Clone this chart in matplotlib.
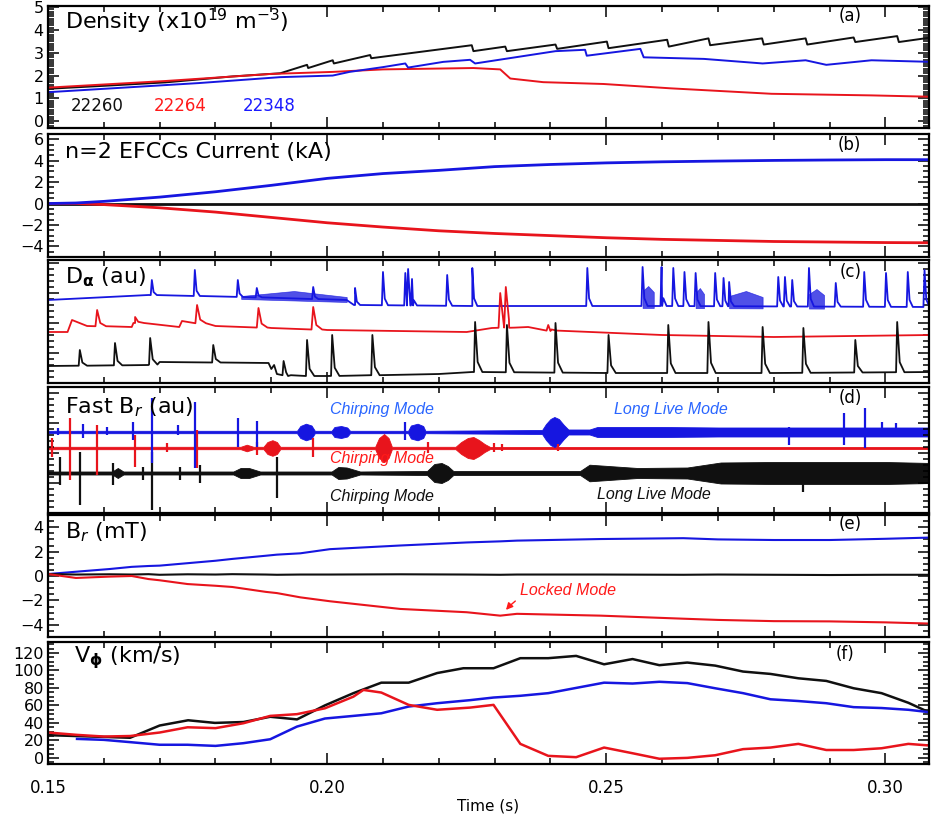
import numpy as np
import matplotlib.pyplot as plt
from matplotlib.ticker import MultipleLocator

BLACK = '#101010'
RED = '#e8141c'
BLUE = '#1616e0'

# (a) line averaged density, x10^19 m^-3
dens_k_t = [0.150, 0.160, 0.171, 0.183, 0.1916, 0.1964, 0.1966, 0.2010, 0.2012, 0.2077, 0.2079,
            0.2259, 0.2262, 0.2319, 0.2322, 0.2409, 0.2412, 0.2501, 0.2504, 0.2609, 0.2612,
            0.2683, 0.2686, 0.2779, 0.2782, 0.2857, 0.2860, 0.2943, 0.2946, 0.3021, 0.3024, 0.3082]
dens_k_v = [1.42, 1.55, 1.70, 1.96, 2.10, 2.47, 2.33, 2.67, 2.53, 2.90, 2.76,
            3.33, 3.07, 3.27, 3.07, 3.36, 3.17, 3.49, 3.20, 3.57, 3.27,
            3.63, 3.33, 3.63, 3.36, 3.63, 3.36, 3.67, 3.47, 3.73, 3.47, 3.67]
dens_r_t = [0.150, 0.171, 0.1899, 0.201, 0.210, 0.2262, 0.231, 0.2328, 0.2387, 0.2495, 0.2615,
            0.2796, 0.2975, 0.3082]
dens_r_v = [1.47, 1.76, 2.07, 2.16, 2.27, 2.33, 2.27, 1.87, 1.71, 1.63, 1.44, 1.20, 1.13, 1.07]
dens_b_t = [0.150, 0.177, 0.1916, 0.201, 0.204, 0.210, 0.214, 0.2145, 0.2208, 0.2256, 0.2265,
            0.2409, 0.2462, 0.2465, 0.2561, 0.2567, 0.2675, 0.278, 0.2857, 0.2894, 0.2975, 0.3082]
dens_b_v = [1.27, 1.67, 1.93, 2.00, 2.16, 2.37, 2.53, 2.35, 2.60, 2.69, 2.53,
            3.07, 3.13, 2.87, 3.17, 2.80, 2.73, 2.53, 2.67, 2.47, 2.67, 2.60]
shots = ['22260', '22264', '22348']

# (b) n=2 EFCC current, kA
efcc_t = [0.150, 0.155, 0.160, 0.170, 0.180, 0.190, 0.200, 0.210, 0.220, 0.230, 0.240, 0.250,
          0.260, 0.270, 0.280, 0.290, 0.300, 0.308]
efcc_b = [0.0, 0.05, 0.2, 0.6, 1.1, 1.7, 2.35, 2.8, 3.1, 3.45, 3.65, 3.8,
          3.9, 3.97, 4.03, 4.07, 4.1, 4.1]
efcc_r = [0.0, 0.0, -0.1, -0.4, -0.8, -1.3, -1.8, -2.2, -2.55, -2.8, -3.0, -3.2,
          -3.35, -3.45, -3.55, -3.6, -3.65, -3.67]
efcc_k = [0.0] * len(efcc_t)

# (c) D-alpha (au): baselines and ELM spikes (time, peak)
da_b_base_t = [0.150, 0.168, 0.185, 0.2035, 0.2050, 0.226, 0.260, 0.308]
da_b_base_v = [83, 88, 86, 83, 78, 77, 77, 76]
da_b_spk = [(0.1686, 103), (0.1763, 113), (0.1840, 103), (0.1874, 95), (0.1975, 96),
            (0.2050, 95), (0.2100, 111), (0.2140, 110), (0.2145, 114), (0.2152, 104),
            (0.2215, 108), (0.2260, 115), (0.2466, 115), (0.2565, 116), (0.2599, 116),
            (0.2620, 115), (0.2640, 111), (0.2660, 110), (0.2695, 110), (0.2710, 105),
            (0.2720, 101), (0.2808, 106), (0.2820, 106), (0.2833, 103), (0.2863, 115),
            (0.2911, 100), (0.2962, 111), (0.3001, 110), (0.3040, 111), (0.3070, 113)]
da_b_burst = [(0.1846, 0.2035, 92), (0.2565, 0.2585, 97), (0.2660, 0.2675, 95),
              (0.2720, 0.2780, 92), (0.2863, 0.2890, 94)]
da_r_base_t = [0.150, 0.1535, 0.1543, 0.157, 0.165, 0.1656, 0.1735, 0.1740, 0.180, 0.190,
               0.200, 0.225, 0.2295, 0.2360, 0.240, 0.260, 0.280, 0.308]
da_r_base_v = [51, 51, 63, 57, 56, 60, 56, 62, 57, 55, 53, 51, 55, 56, 52, 48, 46, 48]
da_r_spk = [(0.1588, 73), (0.1656, 66), (0.1767, 78), (0.1877, 75), (0.1975, 76),
            (0.2310, 90), (0.2320, 96), (0.2396, 58)]
da_k_base_t = [0.150, 0.168, 0.170, 0.1895, 0.1900, 0.1905, 0.1910, 0.193, 0.200, 0.220,
               0.226, 0.250, 0.280, 0.308]
da_k_base_v = [17, 18, 21, 20, 14, 18, 9, 7, 7, 9, 11, 10, 10, 11]
da_k_spk = [(0.1557, 33), (0.1620, 40), (0.1683, 45), (0.1796, 38), (0.1922, 22),
            (0.1964, 43), (0.2009, 48), (0.2081, 48), (0.2265, 61), (0.2322, 58),
            (0.2409, 60), (0.2504, 48), (0.2611, 58), (0.2683, 61), (0.2780, 56),
            (0.2853, 55), (0.2946, 43), (0.3021, 61)]

# (d) fast Br (au): offsets, envelope (time, half width) and spikes (time, top, bottom)
fb_b_level = 81
fb_b_env_t = [0.150, 0.1946, 0.1952, 0.1962, 0.1972, 0.1978, 0.2008, 0.2013, 0.2025, 0.2036,
              0.2041, 0.2145, 0.2150, 0.2162, 0.2172, 0.2176, 0.2385, 0.2392, 0.2400, 0.2407,
              0.2415, 0.2424, 0.2432, 0.2470, 0.2484, 0.2600, 0.2700, 0.2850, 0.3082]
fb_b_env_w = [1.2, 1.2, 6, 8.3, 6.5, 1.2, 1.2, 5, 6, 4.5, 1.2, 1.2, 6.5, 8.3, 6, 1.2,
              2, 8, 13, 15, 13, 7, 2.5, 2.5, 5, 5, 4.5, 4.5, 4.5]
fb_b_spk = [(0.1518, 85, 78), (0.1563, 89, 75), (0.1605, 86, 78), (0.1653, 91, 73),
            (0.1686, 115, 50), (0.1733, 88, 78), (0.1763, 111, 45), (0.1841, 95, 66),
            (0.1874, 92, 66), (0.2140, 91, 73), (0.2828, 86, 68), (0.2925, 100, 68),
            (0.2963, 105, 65), (0.2994, 91, 78), (0.3018, 90, 76)]
fb_r_level = 65
fb_r_env_t = [0.150, 0.1845, 0.1856, 0.1868, 0.1886, 0.1893, 0.1902, 0.1910, 0.1916,
              0.2086, 0.2093, 0.2102, 0.2110, 0.2116, 0.2230, 0.2240, 0.2252, 0.2262,
              0.2272, 0.2282, 0.2292, 0.3082]
fb_r_env_w = [1.2, 1.2, 3.3, 1.2, 1.2, 6, 7.8, 6, 1.2, 1.2, 10, 14, 10, 1.2,
              1.2, 6, 10, 11, 8, 4, 1.0, 1.0]
fb_r_spk = [(0.1507, 75, 56), (0.1540, 95, 33), (0.1588, 88, 38), (0.1656, 78, 46),
            (0.1713, 70, 61), (0.1767, 83, 45), (0.1874, 71, 58), (0.1975, 75, 56),
            (0.2180, 71, 60), (0.2298, 70, 61), (0.2313, 69, 62), (0.2414, 69, 62)]
fb_k_level = 40
fb_k_env_t = [0.150, 0.1615, 0.1625, 0.1635, 0.1832, 0.1845, 0.1860, 0.1880, 0.2008, 0.2020,
              0.2035, 0.2059, 0.2179, 0.2192, 0.2205, 0.2216, 0.2226, 0.2453, 0.2470, 0.2556,
              0.2645, 0.2705, 0.2800, 0.3000, 0.3082]
fb_k_env_w = [1.5, 1.5, 5, 1.5, 1.5, 5, 5, 1.5, 1.5, 6, 5.5, 1.5, 2, 9, 10, 7, 2,
              2, 8.3, 5, 5.5, 10.5, 11, 11, 10]
fb_k_spk = [(0.1521, 56, 28), (0.1557, 61, 8), (0.1617, 50, 28), (0.1670, 46, 33),
            (0.1686, 61, 3), (0.1737, 46, 33), (0.1772, 48, 30), (0.1910, 56, 15),
            (0.2853, 45, 21)]

# (e) Br, mT
br_t = [0.150, 0.155, 0.161, 0.165, 0.168, 0.170, 0.175, 0.180, 0.183, 0.189, 0.191, 0.1952,
        0.2005, 0.2131, 0.225, 0.231, 0.234, 0.249, 0.2638, 0.270, 0.280, 0.290, 0.300, 0.308]
br_b = [0.16, 0.35, 0.57, 0.75, 0.82, 0.85, 1.05, 1.25, 1.4, 1.66, 1.75, 1.86,
        2.2, 2.5, 2.75, 2.84, 2.9, 3.03, 3.1, 3.0, 2.95, 2.95, 3.05, 3.15]
br_r = [0.16, -0.16, -0.05, 0.0, -0.25, -0.35, -0.66, -0.8, -0.9, -1.3, -1.4, -1.75,
        -2.07, -2.7, -2.97, -3.25, -3.1, -3.25, -3.5, -3.6, -3.7, -3.72, -3.8, -3.9]
br_k = [0.16, 0.12, 0.14, 0.12, 0.15, 0.1, 0.14, 0.12, 0.15, 0.12, 0.1, 0.12,
        0.12, 0.14, 0.12, 0.1, 0.12, 0.12, 0.1, 0.12, 0.1, 0.08, 0.1, 0.1]

# (f) toroidal rotation, km/s
vphi_k_t = [0.150, 0.1647, 0.170, 0.1751, 0.1799, 0.185, 0.1898, 0.1946, 0.1996, 0.2047,
            0.2097, 0.2146, 0.2197, 0.2244, 0.2298, 0.2346, 0.2396, 0.2446, 0.2496, 0.2547,
            0.2595, 0.2645, 0.2695, 0.2745, 0.2794, 0.2844, 0.2894, 0.2943, 0.2993, 0.3041,
            0.3082]
vphi_k = [26, 23, 37, 43, 40, 41, 47, 44, 60, 74, 86, 86, 97, 102.5, 102.5, 114, 114, 116.6,
          107, 113, 106, 109, 105.5, 98.7, 96, 91, 88, 79.6, 74, 63, 51]
vphi_b_t = [0.1552, 0.160, 0.1647, 0.170, 0.175, 0.180, 0.185, 0.1898, 0.1946, 0.1996,
            0.2047, 0.2097, 0.2146, 0.2197, 0.2256, 0.2298, 0.2346, 0.2396, 0.2446, 0.2496,
            0.2547, 0.2595, 0.2645, 0.2695, 0.2745, 0.2794, 0.2844, 0.2894, 0.2943, 0.2993,
            0.3041, 0.3082]
vphi_b = [21.7, 20.6, 18, 15, 15, 13.7, 16.8, 21.3, 35.8, 45, 48, 51, 58.7, 62.5, 66, 69,
          71, 74, 80, 86, 85, 87, 85.5, 79.6, 74, 67, 65, 62.5, 58, 57, 55, 52]
vphi_r_t = [0.150, 0.1552, 0.160, 0.1647, 0.170, 0.175, 0.180, 0.185, 0.1898, 0.1946, 0.1996,
            0.2047, 0.2065, 0.2097, 0.2146, 0.2197, 0.2256, 0.2298, 0.2346, 0.2396, 0.2446,
            0.2496, 0.2547, 0.2595, 0.2645, 0.2695, 0.2745, 0.2794, 0.2844, 0.2894, 0.2943,
            0.2993, 0.3041, 0.3082]
vphi_r = [29, 26.3, 24.4, 25, 29, 35, 34, 39.6, 48, 50, 56.7, 70, 77.7, 74.7, 60.6, 55,
          57.5, 60.6, 16, 2.3, 0.8, 11.8, 5.3, -1, 0, 3, 10, 11.8, 16, 9, 9, 11, 16, 14]

XMIN, XMAX = 0.15, 0.3078


def spiky(bt, bv, spikes, rise, decay):
    # baseline with ELM spikes drawn as fast rise / slower decay
    t = list(bt)
    v = list(bv)
    for ts, pk in spikes:
        b = float(np.interp(ts, bt, bv))
        t += [ts - rise, ts, ts + decay * 0.35, ts + decay]
        v += [b, pk, b + (pk - b) * 0.2, b]
    order = np.argsort(t, kind='stable')
    return np.array(t)[order], np.array(v)[order]


W, H = 931, 824
fig = plt.figure(figsize=(W / 100, H / 100), dpi=100)

panels = [(6, 128), (134, 257), (260, 383), (387, 513), (515, 637), (642, 764)]
axes = []
for top, bot in panels:
    ax = fig.add_axes([48 / W, 1 - bot / H, (929 - 48) / W, (bot - top) / H])
    ax.set_xlim(XMIN, XMAX)
    ax.xaxis.set_major_locator(MultipleLocator(0.05))
    ax.xaxis.set_minor_locator(MultipleLocator(0.01))
    ax.tick_params(which='both', direction='in', top=True, right=True, width=1.1)
    ax.tick_params(which='major', length=8, labelsize=12)
    ax.tick_params(axis='y', labelsize=11.5, pad=3)
    ax.tick_params(which='minor', length=4)
    for s in ax.spines.values():
        s.set_linewidth(1.6)
    if len(axes) < 5:
        ax.tick_params(labelbottom=False)
    axes.append(ax)

title_kw = dict(fontsize=16, ha='left', va='center')
tag_kw = dict(fontsize=12, ha='center', va='center')

# (a)
ax = axes[0]
ax.plot(dens_k_t, dens_k_v, color=BLACK, lw=1.4)
ax.plot(dens_r_t, dens_r_v, color=RED, lw=1.4)
ax.plot(dens_b_t, dens_b_v, color=BLUE, lw=1.4)
ax.set_ylim(-0.3, 5.05)
ax.yaxis.set_major_locator(MultipleLocator(1))
ax.yaxis.set_minor_locator(MultipleLocator(0.1))
ax.text(0.019, 0.87, r'Density (x10$^{19}$ m$^{-3}$)', transform=ax.transAxes, **title_kw)
ax.text(0.911, 0.92, '(a)', transform=ax.transAxes, **tag_kw)
for lbl, xc, col in zip(shots, [0.1588, 0.1737, 0.1896], [BLACK, '#ff1a1a', '#1a1aff']):
    ax.text(xc, 0.68, lbl, color=col, fontsize=12, ha='center', va='center')

# (b)
ax = axes[1]
ax.plot(efcc_t, efcc_k, color=BLACK, lw=2)
ax.plot(efcc_t, efcc_r, color=RED, lw=2)
ax.plot(efcc_t, efcc_b, color=BLUE, lw=2)
ax.set_ylim(-5, 6.5)
ax.yaxis.set_major_locator(MultipleLocator(2))
ax.yaxis.set_minor_locator(MultipleLocator(0.5))
ax.text(0.019, 0.855, 'n=2 EFCCs Current (kA)', transform=ax.transAxes, **title_kw)
ax.text(0.91, 0.91, '(b)', transform=ax.transAxes, **tag_kw)

# (c)
ax = axes[2]
t, v = spiky(da_b_base_t, da_b_base_v, da_b_spk, 0.0002, 0.0009)
ax.plot(t, v, color=BLUE, lw=1.3)
for t0, t1, hi in da_b_burst:
    bt = np.linspace(t0, t1, 3)
    bb = np.interp(bt, da_b_base_t, da_b_base_v)
    ax.fill_between(bt, bb - 2, [hi - 5, hi, hi - 6], color=BLUE, lw=0.5, alpha=0.75)
t, v = spiky(da_r_base_t, da_r_base_v, da_r_spk, 0.0003, 0.0016)
ax.plot(t, v, color=RED, lw=1.3)
t, v = spiky(da_k_base_t, da_k_base_v, da_k_spk, 0.0002, 0.0013)
ax.plot(t, v, color=BLACK, lw=1.3)
ax.set_ylim(0, 123)
ax.yaxis.set_major_locator(MultipleLocator(30))
ax.yaxis.set_minor_locator(MultipleLocator(6))
ax.tick_params(labelleft=False)
ax.text(0.019, 0.86, r'D$_{\mathbf{\alpha}}$ (au)', transform=ax.transAxes, **title_kw)
ax.text(0.911, 0.9, '(c)', transform=ax.transAxes, **tag_kw)

# (d)
ax = axes[3]
for lvl, et, ew, spk, col in [(fb_k_level, fb_k_env_t, fb_k_env_w, fb_k_spk, BLACK),
                              (fb_r_level, fb_r_env_t, fb_r_env_w, fb_r_spk, RED),
                              (fb_b_level, fb_b_env_t, fb_b_env_w, fb_b_spk, BLUE)]:
    et = np.array(et)
    ew = np.array(ew)
    ax.fill_between(et, lvl - ew, lvl + ew, color=col, lw=0.6, edgecolor=col)
    st = [s[0] for s in spk]
    ax.vlines(st, [s[2] for s in spk], [s[1] for s in spk], color=col, lw=1.6)
ax.set_ylim(0, 126)
ax.yaxis.set_major_locator(MultipleLocator(30))
ax.yaxis.set_minor_locator(MultipleLocator(6))
ax.tick_params(labelleft=False)
ax.text(0.019, 0.84, r'Fast B$_r$ (au)', transform=ax.transAxes, **title_kw)
ax.text(0.911, 0.91, '(d)', transform=ax.transAxes, **tag_kw)
mode_kw = dict(fontsize=11.5, style='italic', ha='center', va='center', family='Liberation Sans')
ax.text(0.2099, 104, 'Chirping Mode', color='#2a66ff', **mode_kw)
ax.text(0.2615, 104, 'Long Live Mode', color='#2a66ff', **mode_kw)
ax.text(0.2099, 54, 'Chirping Mode', color='#ff1a1a', **mode_kw)
ax.text(0.2099, 17, 'Chirping Mode', color=BLACK, **mode_kw)
ax.text(0.2586, 18, 'Long Live Mode', color=BLACK, **mode_kw)

# (e)
ax = axes[4]
ax.plot(br_t, br_b, color=BLUE, lw=1.5)
ax.plot(br_t, br_k, color=BLACK, lw=1.5)
ax.plot(br_t, br_r, color=RED, lw=1.5)
ax.set_ylim(-5, 5)
ax.yaxis.set_major_locator(MultipleLocator(2))
ax.yaxis.set_minor_locator(MultipleLocator(0.5))
ax.text(0.019, 0.86, r'B$_r$ (mT)', transform=ax.transAxes, **title_kw)
ax.text(0.911, 0.93, '(e)', transform=ax.transAxes, **tag_kw)
ax.annotate('Locked Mode', xy=(0.2317, -2.95), xytext=(0.2346, -1.15),
            color='#ff1a1a', fontsize=11.5, style='italic', family='Liberation Sans',
            ha='left', va='center',
            arrowprops=dict(arrowstyle='-|>', color='#ff1a1a', lw=1,
                            connectionstyle='arc3,rad=0.3', mutation_scale=10))

# (f)
ax = axes[5]
ax.plot(vphi_k_t, vphi_k, color=BLACK, lw=1.8)
ax.plot(vphi_b_t, vphi_b, color=BLUE, lw=1.8)
ax.plot(vphi_r_t, vphi_r, color=RED, lw=1.8)
ax.set_ylim(-7, 132.5)
ax.yaxis.set_minor_locator(MultipleLocator(5))
ax.set_yticks([0, 20, 40, 60, 80, 100, 120])
ax.text(0.03, 0.87, r'V$_{\mathbf{\phi}}$ (km/s)', transform=ax.transAxes, **title_kw)
ax.text(0.905, 0.9, '(f)', transform=ax.transAxes, **tag_kw)
ax.set_xticks([0.15, 0.20, 0.25, 0.30])
ax.set_xticklabels(['0.15', '0.20', '0.25', '0.30'])
ax.tick_params(axis='x', pad=11)
ax.set_xlabel('Time (s)', fontsize=11, labelpad=1)

fig.savefig('out.png', dpi=100)
